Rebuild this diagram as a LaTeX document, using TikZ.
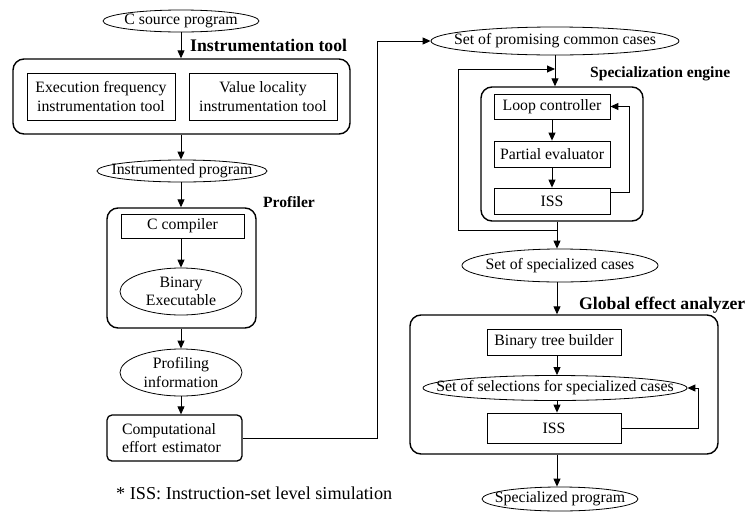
\documentclass[tikz,border=0pt]{standalone}
\usepackage{fontspec}
\setmainfont{Liberation Serif}
\usetikzlibrary{arrows.meta,shapes.geometric}
\begin{document}
\begin{tikzpicture}[x=1pt,y=-1pt,
  every node/.style={font=\fontsize{15.8}{18.5}\selectfont},
  arr/.style={-{Triangle[length=8pt,width=7pt]}, line width=0.9pt},
  conn/.style={line width=0.9pt},
  stage/.style={draw, rectangle, line width=0.8pt, inner sep=2pt, align=center},
  group/.style={draw, rectangle, rounded corners=11pt, line width=1.4pt},
  data/.style={draw, ellipse, line width=0.8pt, inner sep=0pt},
  title/.style={anchor=west, inner sep=0pt, font=\fontsize{17.7}{20}\selectfont\bfseries},
  subtitle/.style={anchor=west, inner sep=0pt, font=\fontsize{15.6}{18}\selectfont\bfseries},
]
\useasboundingbox (0,0) rectangle (750,512);

% ---------- left column: instrumentation and profiling ----------
\node[data, minimum width=156pt, minimum height=22pt, label=center:C source program] (src) at (181,21) {};
\node[title] (tInstr) at (190,45) {Instrumentation tool};
\node[group, minimum width=337pt, minimum height=75pt] (instr) at (181.5,96.5) {};
\node[stage, minimum width=148pt, minimum height=47pt] (efi) at (101,96.5) {Execution frequency\\instrumentation tool};
\node[stage, minimum width=148pt, minimum height=47pt] (vli) at (263,96.5) {Value locality\\instrumentation tool};

\node[data, minimum width=170pt, minimum height=22pt, label=center:Instrumented program] (iprog) at (182,171) {};

\node[subtitle] (tProf) at (263,202) {Profiler};
\node[group, minimum width=149pt, minimum height=120pt] (prof) at (181.5,268) {};
\node[stage, minimum width=123pt, minimum height=24pt] (cc) at (182.5,226) {C compiler};
\node[data, minimum width=122pt, minimum height=47pt, label={[align=center]center:Binary\\Executable}] (bin) at (181,291.5) {};

\node[data, minimum width=122pt, minimum height=47pt, label={[align=center]center:Profiling\\information}] (pinfo) at (181,372.5) {};

\node[draw, rectangle, rounded corners=5pt, line width=1.3pt, minimum width=135pt, minimum height=46pt,
      text width=105pt, inner xsep=15pt, align=left] (cee) at (174.5,438) {Computational\\effort estimator};

\node[anchor=west, inner sep=0pt, font=\fontsize{18.2}{20}\selectfont] (note) at (116,493) {* ISS: Instruction-set level simulation};

% ---------- right column: specialization ----------
\node[data, minimum width=248pt, minimum height=28pt, label=center:Set of promising common cases] (prom) at (555,41) {};

\node[subtitle] (tEng) at (590,74) {Specialization engine};
\node[group, minimum width=162pt, minimum height=134pt] (eng) at (562,154) {};
\node[stage, minimum width=116pt, minimum height=25pt] (lctrl) at (552,106.5) {Loop controller};
\node[stage, minimum width=116pt, minimum height=26pt] (peval) at (552,154) {Partial evaluator};
\node[stage, minimum width=116pt, minimum height=26pt] (issA) at (552,201) {ISS};

\node[data, minimum width=196pt, minimum height=33pt, label=center:Set of specialized cases] (spc) at (560,265.5) {};

\node[title] (tGea) at (579,305) {Global effect analyzer};
\node[group, minimum width=308pt, minimum height=139pt] (gea) at (564,384.5) {};
\node[stage, minimum width=134pt, minimum height=26pt] (btb) at (554,342) {Binary tree builder};
\node[data, minimum width=264pt, minimum height=25pt, label=center:Set of selections for specialized cases] (sel) at (555,388) {};
\node[stage, minimum width=134pt, minimum height=30pt] (issB) at (554,428) {ISS};

\node[data, minimum width=156pt, minimum height=24pt, label=center:Specialized program] (sprog) at (560,499) {};

% ---------- connectors ----------
\coordinate (rx) at (557,0);
\coordinate (bend) at (377,0);
\coordinate (fbs) at (557,230);
\coordinate (fbl) at (458,69);

\draw[arr] (src.south) -- (src.south |- instr.north);
\draw[arr] (instr.south -| src.south) -- (iprog.north -| src.south);
\draw[arr] (iprog.south -| src.south) -- (prof.north -| src.south);
\draw[arr] (cc.south -| src.south) -- (bin.north -| src.south);
\draw[arr] (prof.south -| src.south) -- (pinfo.north -| src.south);
\draw[arr] (pinfo.south -| src.south) -- (cee.north -| src.south);

\draw[arr] (cee.east) -| (bend |- prom.west) -- (prom.west);

\draw[arr] (prom.south) -- (prom.south |- eng.north);
\draw[arr] (lctrl.south) -- (peval.north);
\draw[arr] (peval.south) -- (issA.north);
\draw[arr] ([yshift=-5pt]issA.north east) -- ++(19pt,0) |- (lctrl.east);
\draw[arr] (eng.south -| rx) -- (spc.north -| rx);
\draw[conn] (fbs) -| (fbl);
\draw[arr] (fbl) -- (fbl -| prom.south);

\draw[arr] (spc.south -| rx) -- (gea.north -| rx);
\draw[arr] (btb.south -| rx) -- (sel.north -| rx);
\draw[arr] (sel.south -| rx) -- (issB.north -| rx);
\draw[arr] (issB.east) -- ++(77pt,0) |- (sel.east);
\draw[arr] (gea.south -| rx) -- (sprog.north -| rx);

\end{tikzpicture}
\end{document}
